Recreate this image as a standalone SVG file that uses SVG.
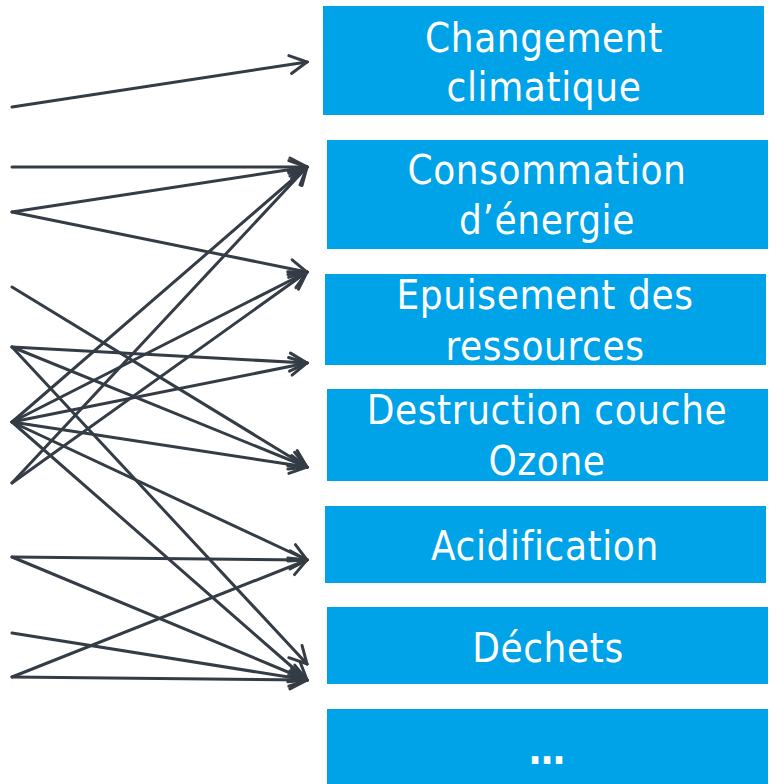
<svg xmlns="http://www.w3.org/2000/svg" width="769" height="784" viewBox="0 0 769 784">
  <style>
    .box { fill: #00a3e8; }
    .label { fill: #ffffff; font-family: "DejaVu Sans Condensed", "DejaVu Sans", "Open Sans", sans-serif; font-stretch: condensed; font-size: 40px; letter-spacing: 0.6px; text-anchor: middle; }
    .dots { font-weight: bold; letter-spacing: 0; }
    .link { fill: none; stroke: #343c46; stroke-width: 3; stroke-linecap: round; marker-end: url(#chevron); }
  </style>
  <defs>
    <marker id="chevron" markerUnits="userSpaceOnUse" viewBox="-20 -11 22 22" refX="0" refY="0" markerWidth="22" markerHeight="22" orient="auto">
      <path d="M-17,-9 L0,0 L-17,9" fill="none" stroke="#343c46" stroke-width="3" stroke-linecap="round" stroke-linejoin="miter"/>
    </marker>
  </defs>
  <rect width="769" height="784" fill="#ffffff"/>

  <g id="connectors">
    <line class="link" x1="12" y1="107" x2="307" y2="62"/>
    <line class="link" x1="12" y1="167" x2="307" y2="167"/>
    <line class="link" x1="12" y1="212" x2="307" y2="167"/>
    <line class="link" x1="12" y1="212" x2="307" y2="272"/>
    <line class="link" x1="12" y1="287" x2="307" y2="467"/>
    <line class="link" x1="12" y1="347" x2="307" y2="363"/>
    <line class="link" x1="12" y1="347" x2="307" y2="467"/>
    <line class="link" x1="12" y1="347" x2="307" y2="664"/>
    <line class="link" x1="12" y1="422" x2="307" y2="167"/>
    <line class="link" x1="12" y1="422" x2="307" y2="272"/>
    <line class="link" x1="12" y1="422" x2="307" y2="363"/>
    <line class="link" x1="12" y1="422" x2="307" y2="467"/>
    <line class="link" x1="12" y1="422" x2="307" y2="560"/>
    <line class="link" x1="12" y1="422" x2="307" y2="680"/>
    <line class="link" x1="12" y1="483" x2="307" y2="167"/>
    <line class="link" x1="12" y1="483" x2="307" y2="272"/>
    <line class="link" x1="12" y1="557" x2="307" y2="560"/>
    <line class="link" x1="12" y1="557" x2="307" y2="680"/>
    <line class="link" x1="12" y1="633" x2="307" y2="680"/>
    <line class="link" x1="12" y1="677" x2="307" y2="680"/>
    <line class="link" x1="12" y1="677" x2="307" y2="560"/>
  </g>

  <g id="changement-climatique">
    <rect class="box" x="323" y="6" width="441" height="109"/>
    <text class="label" x="544" y="52">Changement</text>
    <text class="label" x="544" y="101">climatique</text>
  </g>
  <g id="consommation-energie">
    <rect class="box" x="327" y="140" width="441" height="109"/>
    <text class="label" x="547" y="184">Consommation</text>
    <text class="label" x="547" y="234">d’énergie</text>
  </g>
  <g id="epuisement-ressources">
    <rect class="box" x="325" y="274" width="441" height="91"/>
    <text class="label" x="545" y="309">Epuisement des</text>
    <text class="label" x="545" y="360">ressources</text>
  </g>
  <g id="destruction-ozone">
    <rect class="box" x="327" y="389" width="441" height="92"/>
    <text class="label" x="547" y="424">Destruction couche</text>
    <text class="label" x="547" y="475">Ozone</text>
  </g>
  <g id="acidification">
    <rect class="box" x="325" y="506" width="441" height="77"/>
    <text class="label" x="545" y="560">Acidification</text>
  </g>
  <g id="dechets">
    <rect class="box" x="327" y="607" width="441" height="77"/>
    <text class="label" x="548" y="662">Déchets</text>
  </g>
  <g id="autres">
    <rect class="box" x="327" y="709" width="441" height="75"/>
    <text class="label dots" x="547" y="764">…</text>
  </g>
</svg>
